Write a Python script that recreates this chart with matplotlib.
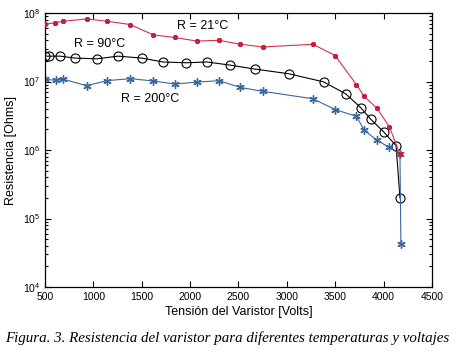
import matplotlib
matplotlib.use("Agg")
import matplotlib.pyplot as plt
from matplotlib.ticker import LogLocator, NullFormatter

# datos
v_21 = [500, 600, 690, 930, 1140, 1380, 1620, 1840, 2070, 2300, 2520, 2750,
        3270, 3500, 3720, 3800, 3930, 4060, 4170]
r_21 = [6.9e7, 7.2e7, 7.6e7, 8.2e7, 7.6e7, 6.8e7, 4.8e7, 4.4e7, 3.9e7, 4.0e7,
        3.5e7, 3.2e7, 3.5e7, 2.4e7, 9.0e6, 6.1e6, 4.1e6, 2.2e6, 8.7e5]

v_90 = [500, 540, 655, 810, 1040, 1255, 1500, 1720, 1960, 2175, 2410, 2670,
        3020, 3380, 3610, 3765, 3870, 4000, 4130, 4170]
r_90 = [2.35e7, 2.35e7, 2.35e7, 2.2e7, 2.15e7, 2.35e7, 2.2e7, 1.93e7, 1.88e7,
        1.93e7, 1.74e7, 1.52e7, 1.3e7, 9.9e6, 6.6e6, 4.15e6, 2.8e6, 1.85e6,
        1.16e6, 2.0e5]

v_200 = [500, 610, 690, 930, 1140, 1380, 1620, 1840, 2070, 2300, 2520, 2750,
         3270, 3500, 3720, 3800, 3930, 4060, 4170, 4180]
r_200 = [1.08e7, 1.04e7, 1.08e7, 8.7e6, 1.03e7, 1.1e7, 1.02e7, 9.2e6, 9.8e6,
         1.03e7, 8.2e6, 7.2e6, 5.6e6, 3.9e6, 3.1e6, 1.95e6, 1.4e6, 1.09e6,
         8.7e5, 4.2e4]

x_ticks = [500, 1000, 1500, 2000, 2500, 3000, 3500, 4000, 4500]

plt.rcParams["font.family"] = ["Liberation Sans", "DejaVu Sans"]

fig = plt.figure(figsize=(4.57, 3.53), dpi=100)
ax = fig.add_axes([0.0985, 0.187, 0.8465, 0.776])

asterisk = (6, 2, 0)
ax.semilogy(v_21, r_21, color="#d8304c", lw=0.8, marker=asterisk,
            ms=3.5, mew=1.3, mec="#c8203c", zorder=3)
ax.semilogy(v_90, r_90, color="black", lw=0.8, marker="o", ms=6.5,
            mfc="none", mew=0.8, zorder=2)
ax.semilogy(v_200, r_200, color="#3a679c", lw=0.8, marker=asterisk,
            ms=6, mew=1.0, zorder=2)

ax.set_xlim(500, 4500)
ax.set_ylim(1e4, 1e8)
ax.set_xticks(x_ticks)
ax.yaxis.set_major_locator(LogLocator(base=10, numticks=10))
ax.yaxis.set_minor_locator(LogLocator(base=10, subs=range(2, 10), numticks=50))
ax.yaxis.set_minor_formatter(NullFormatter())

ax.tick_params(which="both", direction="in", top=True, right=True,
               labelsize=7.5, width=0.8)
ax.tick_params(which="major", length=4)
ax.tick_params(which="minor", length=2)
for s in ax.spines.values():
    s.set_linewidth(0.9)

ax.text(1864, 6.4e7, "R = 21°C", fontsize=9, va="center")
ax.text(800, 3.5e7, "R = 90°C", fontsize=9, va="center")
ax.text(1285, 5.5e6, "R = 200°C", fontsize=9, va="center")

ax.set_xlabel("Tensión del Varistor [Volts]", fontsize=9, labelpad=3)
ax.set_ylabel("Resistencia [Ohms]", fontsize=9, labelpad=4)

fig.text(0.012, 0.042, "Figura. 3. Resistencia del varistor para diferentes temperaturas y voltajes",
         fontsize=10.8, style="italic", family="Liberation Serif", va="center")

fig.savefig("out.png", dpi=100)
